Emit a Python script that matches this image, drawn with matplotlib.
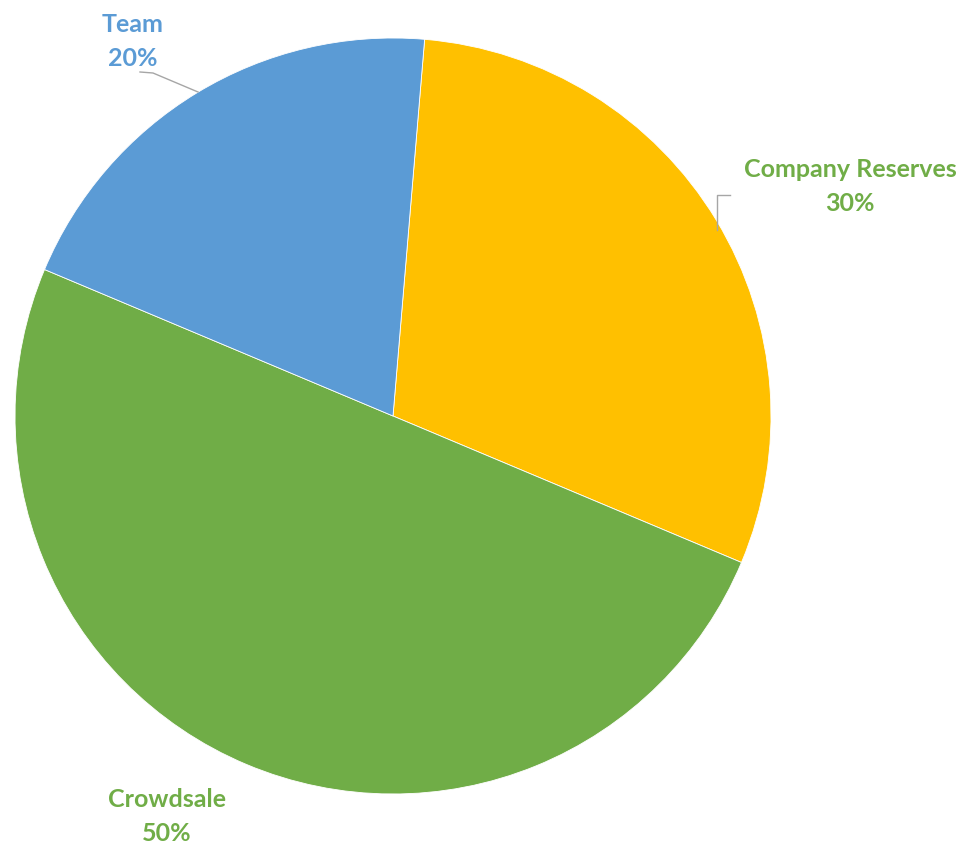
import matplotlib.pyplot as plt

# Token allocation
labels = ["Company Reserves", "Crowdsale", "Team"]
shares = [30, 50, 20]
colors = ["#FFC000", "#70AD47", "#5B9BD5"]
label_colors = ["#70AD47", "#70AD47", "#5B9BD5"]

W, H = 968, 848
fig = plt.figure(figsize=(W / 100, H / 100), dpi=100)
ax = fig.add_axes([0, 0, 1, 1])

# pie centre / radius in pixel coords (y measured from bottom)
cx, cy, r = 393, H - 416, 378
ax.pie(shares, colors=colors, center=(cx, cy), radius=r,
       startangle=85.2, counterclock=False, frame=True,
       wedgeprops=dict(edgecolor="white", linewidth=0.6))
ax.set_xlim(0, W)
ax.set_ylim(0, H)
ax.set_aspect("equal")
ax.axis("off")

# data labels: (x centre, baseline of first line) in pixels from top
label_pos = [(850, 177), (167, 807), (133, 32)]
for name, val, col, (x, y) in zip(labels, shares, label_colors, label_pos):
    ax.text(x, H - y, name, color=col, ha="center", va="baseline",
            fontsize=18, fontweight="bold", family="Lato")
    ax.text(x, H - y - 34, f"{val}%", color=col, ha="center", va="baseline",
            fontsize=18, fontweight="bold", family="Lato")

# leader lines
ax.plot([140, 153, 198], [H - 72, H - 73, H - 92], color="#A6A6A6", lw=1)
ax.plot([730, 717, 717], [H - 195, H - 195, H - 230], color="#A6A6A6", lw=1)

fig.savefig("out.png", dpi=100)
